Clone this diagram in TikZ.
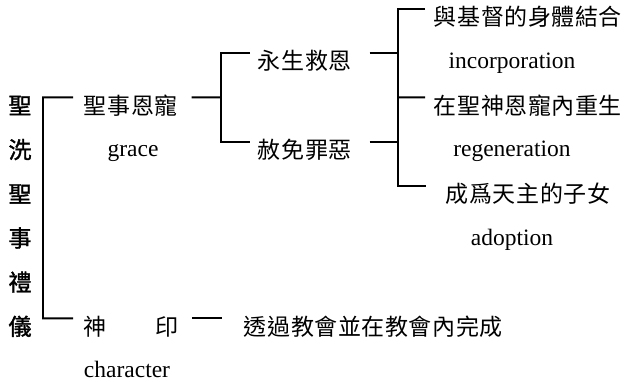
\documentclass[tikz,border=0pt]{standalone}
\usepackage{fontspec}
\setmainfont{Liberation Serif}
\newfontfamily\zhfont[LetterSpace=2.5]{Noto Sans CJK TC}
\newfontfamily\zhboldfont[LetterSpace=2.5,FakeBold=1.5]{Noto Sans CJK TC}
\usetikzlibrary{calc}

\begin{document}
\begin{tikzpicture}[x=1pt,y=-1pt,line width=1.9pt,
  zh/.style={font=\zhfont\fontsize{23}{27}\selectfont,inner sep=0pt,anchor=base west},
  zhroot/.style={font=\zhboldfont\fontsize{23}{27}\selectfont,inner sep=0pt,anchor=base},
  en/.style={font=\fontsize{23.5}{28}\selectfont,inner sep=0pt,anchor=base},
  link/.style={draw,line cap=butt,line join=miter}]
\useasboundingbox (0,0) rectangle (626,382);

% vertical title
\foreach \c [count=\i from 2] in {聖,洗,聖,事,禮,儀}
  \node[zhroot] (root\i) at (20,{25.7+44.2*\i}) {\c};

% texts
\node[zh] (gr) at (83,114.1) {聖事恩寵};
\node[en] (grace) at (133,156.6) {grace};
\node[zh] (seal) at (83,335.1) {\makebox[95pt][l]{神\hfill 印}};
\node[en,anchor=base west] (charac) at (83,377.6) {character};
\node[zh] (via) at (243,335.1) {透過教會並在教會內完成};

\node[zh] (s1) at (257,69.9) {永生救恩};
\node[zh] (s2) at (257,158.3) {赦免罪惡};

\node[zh] (t1) at (433,25.7) {與基督的身體結合};
\node[en] (inc) at (512,68.2) {incorporation};
\node[zh] (t2) at (433,114.1) {在聖神恩寵內重生};
\node[en] (reg) at (512,156.6) {regeneration};
\node[zh,anchor=base] (t3) at (528,202.5) {成爲天主的子女};
\node[en] (adp) at (512,245) {adoption};

% bracket corners
\coordinate (k0) at (43,97.4);
\coordinate (k1) at (221,97.4);
\coordinate (k2) at (398,97.4);
\coordinate (j1) at (398,53.2);
\coordinate (j2) at (398,141.6);

% brackets
\draw[link] ([shift={(-10pt,16.7pt)}]gr.base west) -- (k0) |- ([shift={(-10pt,16.7pt)}]seal.base west);
\draw[link] ([shift={(12pt,16.7pt)}]seal.base east) -- ([shift={(-21pt,16.7pt)}]via.base west);
\draw[link] ([shift={(13pt,16.7pt)}]gr.base east) -- (k1);
\draw[link] ([shift={(-7pt,16.7pt)}]s1.base west) -| (k1) |- ([shift={(-7pt,16.7pt)}]s2.base west);
\draw[link] ([shift={(17pt,16.7pt)}]s1.base east) -- (j1);
\draw[link] ([shift={(17pt,16.7pt)}]s2.base east) -- (j2);
\draw[link] ([shift={(-8pt,16.7pt)}]t1.base west) -| (k2) |- ([shift={(-19pt,16.7pt)}]t3.base west);
\draw[link] ([shift={(-8pt,16.7pt)}]t2.base west) -- (k2);
\end{tikzpicture}
\end{document}
